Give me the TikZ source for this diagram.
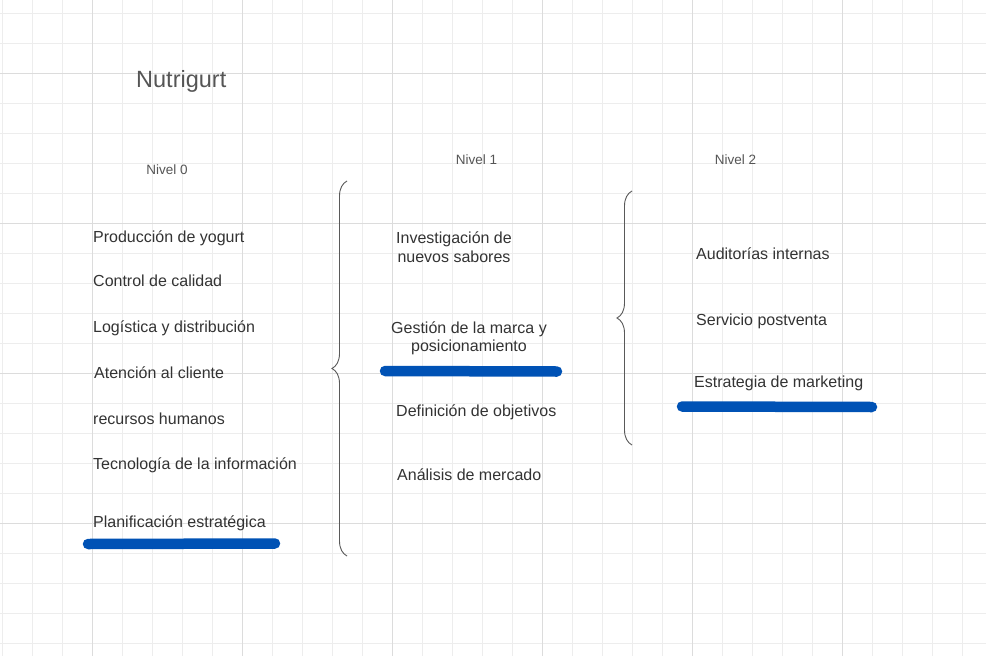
\documentclass[tikz,border=0pt]{standalone}
\usepackage{fontspec}
\setmainfont{Liberation Sans}
\usetikzlibrary{decorations.pathreplacing}
\definecolor{txtgray}{RGB}{51,51,51}
\definecolor{titlegray}{RGB}{85,85,85}
\definecolor{minorgrid}{RGB}{237,237,237}
\definecolor{majorgrid}{RGB}{220,220,220}
\definecolor{markblue}{RGB}{0,82,181}
\tikzset{
	entry/.style={anchor=west, inner sep=0pt, text height=11.5pt, text depth=0pt, text=txtgray, font=\fontsize{16}{18.5}\selectfont},
	twoline/.style={anchor=base, inner sep=0pt, align=center, text=txtgray, font=\fontsize{16}{18.4}\selectfont},
	levellabel/.style={inner sep=0pt, text height=9.7pt, text depth=0pt, text=titlegray, font=\fontsize{13.5}{16}\selectfont},
	highlight/.style={draw=markblue, line width=10.5pt, line cap=round},
	bracket/.style={draw=black!65, line width=0.9pt, decorate, decoration={brace, amplitude=15pt}},
}
\begin{document}
\begin{tikzpicture}[x=1pt, y=-1pt]
	\fill[white] (0,0) rectangle (986,656);
	\useasboundingbox (0,0) rectangle (986,656);
	\foreach \gx in {2,32,...,982}
		\draw[minorgrid, line width=0.9pt] (\gx,0) -- (\gx,656);
	\foreach \gy in {13,43,...,643}
		\draw[minorgrid, line width=0.9pt] (0,\gy) -- (986,\gy);
	\foreach \gx in {92,242,...,842}
		\draw[majorgrid, line width=0.9pt] (\gx,0) -- (\gx,656);
	\foreach \gy in {73,223,373,523}
		\draw[majorgrid, line width=0.9pt] (0,\gy) -- (986,\gy);

	\node[anchor=west, inner sep=0pt, text height=17pt, text depth=0pt, text=titlegray, font=\fontsize{23.5}{28}\selectfont] (title) at (136,78.7) {Nutrigurt};

	\node[levellabel] (nivel0) at (167,169.7) {Nivel 0};
	\node[levellabel] (nivel1) at (476.5,159.5) {Nivel 1};
	\node[levellabel] (nivel2) at (735.5,159.5) {Nivel 2};

	\node[entry] (produccion) at (93,236.5) {Producción de yogurt};
	\node[entry] (control) at (93,280.5) {Control de calidad};
	\node[entry] (logistica) at (93,326.5) {Logística y distribución};
	\node[entry] (atencion) at (94,372.5) {Atención al cliente};
	\node[entry] (recursos) at (93,418.5) {recursos humanos};
	\node[entry] (tecnologia) at (93,463.5) {Tecnología de la información};
	\node[entry] (planificacion) at (93,521.5) {Planificación estratégica};

	\node[twoline] (investigacion) at (454,262.3) {Investigación de\\nuevos sabores};
	\node[twoline] (gestion) at (469,351.7) {Gestión de la marca y\\posicionamiento};
	\node[entry] (objetivos) at (396,410.5) {Definición de objetivos};
	\node[entry] (mercado) at (397,475) {Análisis de mercado};

	\node[entry] (auditorias) at (696,254) {Auditorías internas};
	\node[entry] (postventa) at (696,319.5) {Servicio postventa};
	\node[entry] (estrategia) at (694,381.5) {Estrategia de marketing};

	\coordinate (braceAbot) at (347,556);
	\coordinate (braceAtop) at (347,181);
	\coordinate (braceBbot) at (632,445);
	\coordinate (braceBtop) at (632,191);
	\draw[bracket] (braceAbot) -- (braceAtop);
	\draw[bracket] (braceBbot) -- (braceBtop);

	\draw[highlight] (88,544) -- (275,543.5);
	\draw[highlight] (385,371) -- (557,371.5);
	\draw[highlight] (682,406.5) -- (872,407);
\end{tikzpicture}
\end{document}
